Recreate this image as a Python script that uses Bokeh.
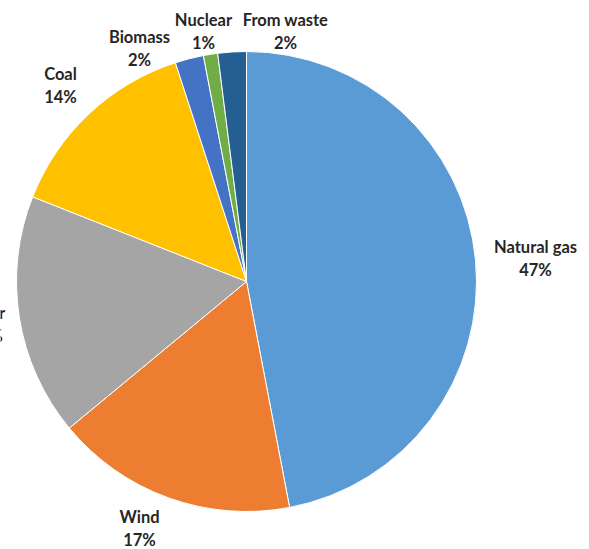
import numpy as np
from bokeh.plotting import figure
from bokeh.models import Range1d, ColumnDataSource
from bokeh.core.properties import value
from bokeh.embed import file_html
from bokeh.resources import INLINE

# Data (share of generation, %), clockwise from 12 o'clock
sources = ["Natural gas", "Wind", "Solar", "Coal", "Biomass", "Nuclear", "From waste"]
shares = [47, 17, 17, 14, 2, 1, 2]
colors = ["#5B9BD5", "#ED7D31", "#A5A5A5", "#FFC000", "#4472C4", "#70AD47", "#255E91"]

# Layout: pie centre/radius and label anchors (screen-pixel coordinates)
CX, CY, R = 246, 281, 230
label_x = [535, 139, -14, 60, 139, 203, 285]
label_y = [246, 516, 312, 73, 36, 19, 19]
LINE_GAP = 23

W, H = 589, 549
p = figure(width=W, height=H, output_backend="svg", toolbar_location=None,
           x_range=Range1d(0, W), y_range=Range1d(-H, 0),
           min_border=0, outline_line_color=None)
p.axis.visible = False
p.grid.visible = False
p.background_fill_color = "white"
p.border_fill_color = "white"

vals = np.array(shares, dtype=float)
frac = vals / vals.sum()
cum = np.concatenate([[0], np.cumsum(frac)])
start = np.pi / 2 - cum[:-1] * 2 * np.pi
end = np.pi / 2 - cum[1:] * 2 * np.pi

src = ColumnDataSource(dict(start=start, end=end, color=colors, name=sources))
p.wedge(x=CX, y=-CY, radius=R, start_angle="start", end_angle="end",
        direction="clock", fill_color="color", line_color="white",
        line_width=1, source=src)

pct = [f"{s}%" for s in shares]
tsrc = ColumnDataSource(dict(x=label_x, y1=[-y for y in label_y],
                             y2=[-(y + LINE_GAP) for y in label_y],
                             name=sources, pct=pct))
common = dict(text_align="center", text_baseline="middle",
              text_font=value("Lato"), text_font_style="bold",
              text_font_size="16.5px", text_color="#262626", source=tsrc)
p.text(x="x", y="y1", text="name", **common)
p.text(x="x", y="y2", text="pct", **common)

open("out.html", "w").write(file_html(p, INLINE))
